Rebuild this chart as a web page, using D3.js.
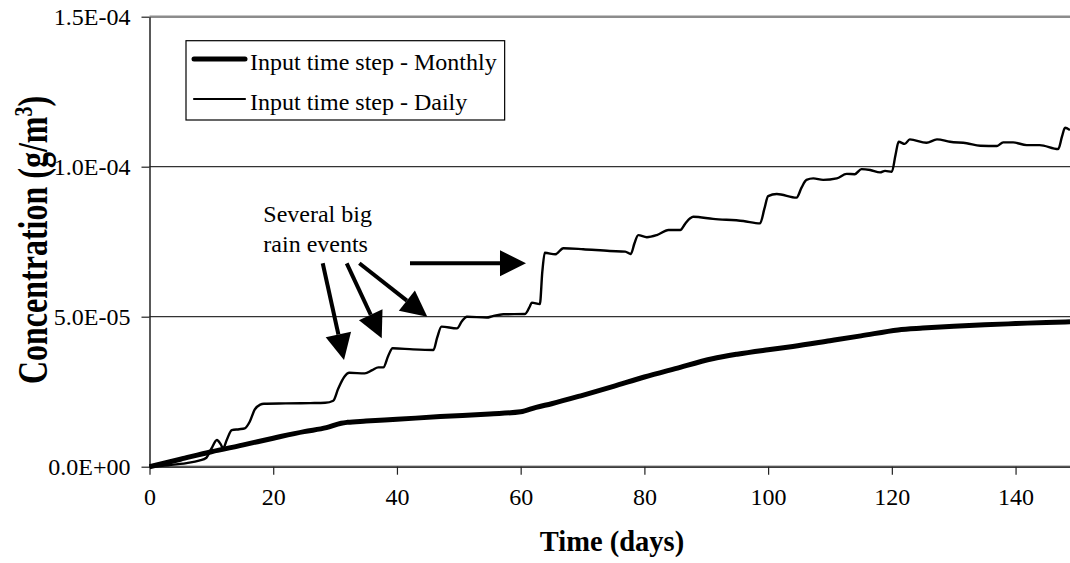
<!DOCTYPE html>
<html>
<head>
<meta charset="utf-8">
<script src="https://cdn.jsdelivr.net/npm/d3@7"></script>
<style>
  html, body { margin: 0; padding: 0; background: #fff; }
  svg { display: block; }
  text { font-family: "Liberation Serif", "Times New Roman", serif; fill: #000; }
</style>
</head>
<body>
<svg id="chart" width="1070" height="563"></svg>
<script>
// Concentration over time for two input time steps (values in units of 1e-5 g/m3)
const monthlyDays = [0, 5, 10, 15, 20, 25, 28.6, 31, 32, 35, 40, 47, 55, 60, 62.5, 65, 70, 75, 80, 85, 91, 95, 100, 104, 110, 115, 121, 125, 130, 135, 140, 145, 148.8];
const monthlyVals = [0, 0.25, 0.5, 0.72, 0.95, 1.17, 1.3, 1.45, 1.48, 1.52, 1.58, 1.67, 1.76, 1.83, 1.98, 2.1, 2.38, 2.68, 2.99, 3.27, 3.6, 3.75, 3.9, 4.01, 4.2, 4.36, 4.56, 4.62, 4.68, 4.73, 4.77, 4.81, 4.83];

const dailyDays = [0, 3, 6, 8, 9.2, 10, 10.9, 11.5, 11.9, 12.5, 13.3, 14.5, 15.4, 16.2, 17, 17.9, 18.5, 22, 26, 28.4, 29.7, 30.5, 31.5, 32.3, 34.8, 36, 37, 37.8, 38.6, 39.3, 42.6, 45.9, 46.5, 47.2, 49.7, 50.5, 51.3, 54.5, 55.5, 57.2, 60.7, 61.5, 61.8, 63.1, 63.5, 63.9, 65.6, 66.9, 70.1, 74.4, 76.9, 77.8, 78.4, 79, 80.4, 82, 83.9, 85.8, 86.6, 87.4, 87.9, 91.1, 96, 98.7, 99.4, 100, 101.4, 104.6, 105.4, 106.2, 107.3, 108.9, 111.1, 112.7, 114, 115.1, 116.5, 118.1, 118.9, 120, 120.6, 121.1, 122.1, 122.9, 125.6, 127.3, 129.4, 132.1, 134.3, 137, 138, 139.6, 141.8, 143.9, 146.9, 147.5, 148, 148.8];
const dailyVals = [0, 0.05, 0.12, 0.2, 0.3, 0.6, 0.89, 0.75, 0.61, 0.9, 1.22, 1.25, 1.28, 1.5, 1.9, 2.07, 2.1, 2.11, 2.12, 2.13, 2.2, 2.6, 3.0, 3.13, 3.11, 3.22, 3.31, 3.31, 3.7, 3.95, 3.91, 3.89, 4.3, 4.67, 4.61, 4.85, 5.0, 4.97, 5.02, 5.08, 5.09, 5.35, 5.47, 5.42, 6.5, 7.13, 7.08, 7.28, 7.25, 7.19, 7.17, 7.09, 7.45, 7.72, 7.65, 7.72, 7.89, 7.89, 8.1, 8.28, 8.33, 8.26, 8.19, 8.11, 8.6, 9.02, 9.09, 8.97, 9.3, 9.56, 9.61, 9.56, 9.61, 9.76, 9.75, 9.92, 9.89, 9.81, 9.86, 9.83, 10.4, 10.83, 10.76, 10.91, 10.80, 10.91, 10.83, 10.78, 10.70, 10.69, 10.81, 10.81, 10.72, 10.72, 10.59, 11.0, 11.3, 11.22];

const xTicks = [0, 20, 40, 60, 80, 100, 120, 140];
const yTicks = [0, 5e-5, 1e-4, 1.5e-4];
const yTickLabels = ["0.0E+00", "5.0E-05", "1.0E-04", "1.5E-04"];
const seriesNames = ["Input time step - Monthly", "Input time step - Daily"];

// Annotation: label and arrows given in data units [day, concentration]
const noteLines = ["Several big", "rain events"];
const noteAnchor = [18.4, 8.16e-5];
const noteArrows = [
  [[28.0, 6.78e-5], [31.44, 3.56e-5]],
  [[31.88, 6.78e-5], [37.54, 4.28e-5]],
  [[33.92, 6.78e-5], [44.91, 5.0e-5]],
  [[42.11, 6.78e-5], [60.86, 6.78e-5]]
];

const svg = d3.select("#chart");
const plotLeft = 149.5, plotRight = 1070, plotTop = 16.7, plotBottom = 466.7;
const serif = "Liberation Serif, Times New Roman, serif";

const x = d3.scaleLinear().domain([0, 148.8]).range([plotLeft, plotRight]);
const y = d3.scaleLinear().domain([0, 1.5e-4]).range([plotBottom, plotTop]);

// Gridlines
svg.append("g")
  .selectAll("line")
  .data(yTicks.filter(v => v > 0 && v < 1.5e-4))
  .join("line")
  .attr("x1", plotLeft).attr("x2", plotRight)
  .attr("y1", d => y(d)).attr("y2", d => y(d))
  .attr("stroke", "#333").attr("stroke-width", 1.3);

// Plot area border (top and bottom)
svg.append("line")
  .attr("x1", plotLeft).attr("x2", plotRight).attr("y1", plotTop).attr("y2", plotTop)
  .attr("stroke", "#8c8c8c").attr("stroke-width", 2.5);
svg.append("line")
  .attr("x1", plotLeft).attr("x2", plotRight).attr("y1", plotBottom).attr("y2", plotBottom)
  .attr("stroke", "#8c8c8c").attr("stroke-width", 2.5);

// Axes
const xAxis = d3.axisBottom(x).tickValues(xTicks).tickSize(8).tickSizeOuter(0).tickPadding(13);
const gx = svg.append("g").attr("transform", `translate(0,${plotBottom})`).call(xAxis);
gx.select(".domain").attr("stroke", "#222").attr("stroke-width", 1.2);
gx.selectAll(".tick line").attr("stroke", "#222").attr("stroke-width", 1.2);
gx.selectAll(".tick text").attr("font-size", 24).attr("font-family", serif).attr("fill", "#000");

const yAxis = d3.axisLeft(y).tickValues(yTicks).tickFormat((d, i) => yTickLabels[i]).tickSize(8).tickSizeOuter(0).tickPadding(11);
const gy = svg.append("g").attr("transform", `translate(${plotLeft},0)`).call(yAxis);
gy.select(".domain").attr("stroke", "#222").attr("stroke-width", 1.5);
gy.selectAll(".tick line").attr("stroke", "#222").attr("stroke-width", 1.2);
gy.selectAll(".tick text").attr("font-size", 24).attr("font-family", serif).attr("fill", "#000");

// Axis titles
svg.append("text")
  .attr("x", 612).attr("y", 551)
  .attr("text-anchor", "middle")
  .attr("font-size", 28.5).attr("font-weight", "bold")
  .text("Time (days)");

const yTitle = svg.append("text")
  .attr("transform", `translate(47,240) rotate(-90) scale(1,1.3)`)
  .attr("text-anchor", "middle")
  .attr("font-size", 32).attr("font-weight", "bold");
yTitle.append("tspan").text("Concentration (g/m");
yTitle.append("tspan").attr("baseline-shift", "super").attr("font-size", 20).text("3");
yTitle.append("tspan").text(")");

// Series
const monthly = monthlyDays.map((d, i) => [d, monthlyVals[i] * 1e-5]);
const daily = dailyDays.map((d, i) => [d, dailyVals[i] * 1e-5]);
const line = d3.line().x(d => x(d[0])).y(d => y(d[1])).curve(d3.curveMonotoneX);

svg.append("path").datum(daily)
  .attr("d", line).attr("fill", "none")
  .attr("stroke", "#000").attr("stroke-width", 2.4).attr("stroke-linejoin", "round");
svg.append("path").datum(monthly)
  .attr("d", line).attr("fill", "none")
  .attr("stroke", "#000").attr("stroke-width", 5).attr("stroke-linejoin", "round");

// Annotation text
const note = svg.append("text").attr("font-size", 24);
noteLines.forEach((t, i) => {
  note.append("tspan")
    .attr("x", x(noteAnchor[0]))
    .attr("y", y(noteAnchor[1]) + i * 30)
    .text(t);
});

// Annotation arrows
const headLen = 26, headHalf = 13;
noteArrows.forEach(([a, b]) => {
  const x1 = x(a[0]), y1 = y(a[1]), x2 = x(b[0]), y2 = y(b[1]);
  const ang = Math.atan2(y2 - y1, x2 - x1);
  const bx = x2 - headLen * Math.cos(ang), by = y2 - headLen * Math.sin(ang);
  svg.append("line")
    .attr("x1", x1).attr("y1", y1).attr("x2", bx).attr("y2", by)
    .attr("stroke", "#000").attr("stroke-width", 4);
  const px = -Math.sin(ang) * headHalf, py = Math.cos(ang) * headHalf;
  svg.append("polygon")
    .attr("points", [[x2, y2], [bx + px, by + py], [bx - px, by - py]].map(p => p.join(",")).join(" "))
    .attr("fill", "#000");
});

// Legend
const lg = svg.append("g");
const box = lg.append("rect")
  .attr("x", 186).attr("y", 40.7).attr("height", 79.3)
  .attr("fill", "#fff").attr("stroke", "#000").attr("stroke-width", 1.2);
let textEnd = 0;
[5, 2.2].forEach((w, i) => {
  const cy = 59 + i * 40;
  lg.append("line")
    .attr("x1", 194).attr("x2", 245).attr("y1", cy).attr("y2", cy)
    .attr("stroke", "#000").attr("stroke-width", w).attr("stroke-linecap", "round");
  const t = lg.append("text")
    .attr("x", 250).attr("y", cy + 11)
    .attr("font-size", 24)
    .text(seriesNames[i]);
  textEnd = Math.max(textEnd, 250 + t.node().getComputedTextLength());
});
box.attr("width", textEnd + 8 - 186);
</script>
</body>
</html>
